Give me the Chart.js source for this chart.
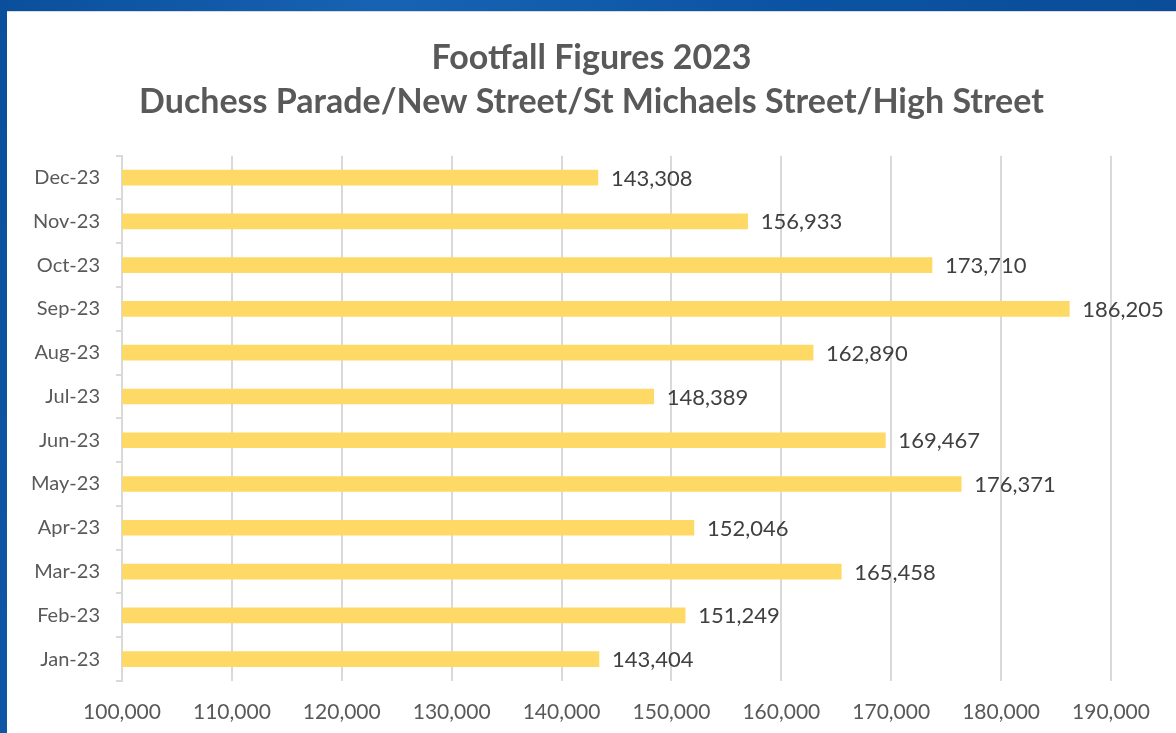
<!DOCTYPE html>
<html>
<head>
<meta charset="utf-8">
<script src="https://cdn.jsdelivr.net/npm/chart.js@4.4.1/dist/chart.umd.min.js"></script>
<style>
  html, body { margin: 0; padding: 0; }
  body {
    width: 1176px; height: 733px; overflow: hidden;
    background: linear-gradient(100deg, #0a4f9c 0%, #1763b3 30%, #0b54a3 60%, #0a4a95 100%);
    position: relative;
  }
  #panel {
    position: absolute; left: 7px; top: 11px; width: 1169px; height: 722px;
    background: #fff; border-top: 1px solid #d9d9d9; box-sizing: border-box;
  }
  #footfallChart { display: block; }
</style>
</head>
<body>
<div id="panel"><canvas id="footfallChart" width="1169" height="721"></canvas></div>
<script>
/* ================= DATA ================= */
const months = ["Jan-23", "Feb-23", "Mar-23", "Apr-23", "May-23", "Jun-23",
                "Jul-23", "Aug-23", "Sep-23", "Oct-23", "Nov-23", "Dec-23"];
const footfall = [143404, 151249, 165458, 152046, 176371, 169467,
                  148389, 162890, 186205, 173710, 156933, 143308];
const titleLines = ["Footfall Figures 2023", "Duchess Parade/New Street/St Michaels Street/High Street"];
const axisMin = 100000;
const axisMax = 190000;
const axisStep = 10000;

const FONT = "Lato, 'Liberation Sans', sans-serif";
const fmt = n => n.toLocaleString("en-GB");

/* data labels at the end of each bar */
const barValueLabels = {
  id: "barValueLabels",
  afterDatasetsDraw(chart) {
    const { ctx } = chart;
    const meta = chart.getDatasetMeta(0);
    ctx.save();
    ctx.font = "22px " + FONT;
    ctx.fillStyle = "#404040";
    ctx.textAlign = "left";
    ctx.textBaseline = "middle";
    meta.data.forEach((bar, i) => {
      ctx.fillText(fmt(footfall[i]), bar.x + 13, bar.y + 1);
    });
    ctx.restore();
  }
};

/* ================= CHART ================= */
const ctx = document.getElementById("footfallChart").getContext("2d");
new Chart(ctx, {
  type: "bar",
  data: {
    labels: months,
    datasets: [{
      data: footfall,
      backgroundColor: "#FFD966",
      barThickness: 15,
      borderWidth: 0
    }]
  },
  options: {
    indexAxis: "y",
    responsive: false,
    animation: false,
    devicePixelRatio: 1,
    layout: { padding: 0 },
    plugins: {
      legend: { display: false },
      tooltip: { enabled: false },
      title: {
        display: true,
        text: titleLines,
        color: "#595959",
        font: { family: FONT, size: 34, weight: "bold", lineHeight: 1.29 },
        padding: { top: 24, bottom: 32 }
      }
    },
    scales: {
      x: {
        min: axisMin,
        max: axisMax,
        ticks: {
          stepSize: axisStep,
          color: "#595959",
          font: { family: FONT, size: 21 },
          padding: 19,
          callback: v => fmt(v)
        },
        grid: { color: "#d9d9d9", lineWidth: 2, drawTicks: false },
        border: { display: false },
        afterFit(scale) {
          scale.height = 52;
          scale.paddingRight = 65;
        }
      },
      y: {
        reverse: true,
        ticks: {
          color: "#595959",
          font: { family: FONT, size: 20 },
          padding: 16
        },
        grid: { offset: true, drawOnChartArea: false, color: "#d9d9d9", lineWidth: 2, tickLength: 6 },
        border: { display: true, color: "#d9d9d9", width: 2 },
        afterFit(scale) {
          scale.width = 115;
        }
      }
    }
  },
  plugins: [barValueLabels]
});
</script>
</body>
</html>
